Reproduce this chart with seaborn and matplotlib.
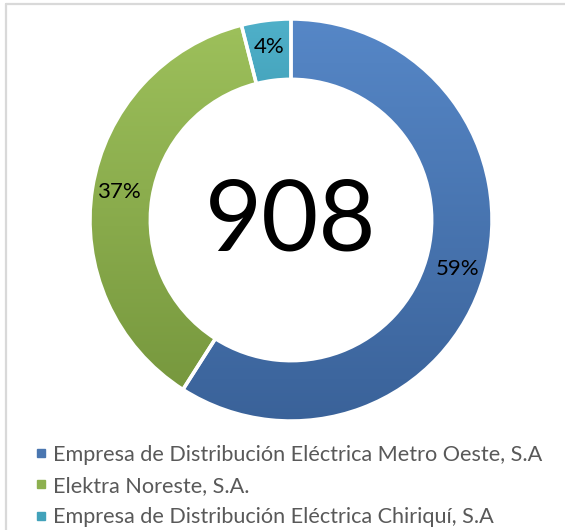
import numpy as np
import matplotlib
matplotlib.use("Agg")
import matplotlib.pyplot as plt
import seaborn as sns
from matplotlib.colors import LinearSegmentedColormap
from matplotlib.lines import Line2D

sns.set_theme(style="white")
plt.rcParams['font.family'] = ['Lato', 'DejaVu Sans']

categories = ["Empresa de Distribución Eléctrica Metro Oeste, S.A",
              "Elektra Noreste, S.A.",
              "Empresa de Distribución Eléctrica Chiriquí, S.A"]
values = [536, 336, 36]
pct_labels = ["59%", "37%", "4%"]
total_label = "908"
top_colors = ["#5687C7", "#9DC05B", "#4FB0C9"]
bottom_colors = ["#3A6299", "#77983E", "#3590A8"]
legend_colors = ["#4A76B0", "#8DB04F", "#42A2BA"]

W, H = 565, 530
fig = plt.figure(figsize=(W / 100, H / 100), dpi=100)
fig.patch.set_facecolor("white")

# frame lines (light gray, top and left)
fig.add_artist(Line2D([6 / W, 6 / W], [0, 1 - 4 / H], color="#D9D9D9", lw=1.6))
fig.add_artist(Line2D([6 / W, 1], [1 - 4 / H, 1 - 4 / H], color="#D9D9D9", lw=1.6))

cx, cy, R = 291, 220, 201
ax = fig.add_axes([(cx - R) / W, (H - cy - R) / H, 2 * R / W, 2 * R / H])
ax.set_xlim(-1, 1)
ax.set_ylim(-1, 1)
ax.set_aspect("equal")
ax.axis("off")

wedges, _ = ax.pie(values, startangle=90, counterclock=False, radius=1.0,
                   colors=legend_colors,
                   wedgeprops=dict(width=0.3, edgecolor="white", linewidth=2.5))

# gradient fill per wedge
for w, tc, bc in zip(wedges, top_colors, bottom_colors):
    path = w.get_path()
    verts = path.vertices
    ymin, ymax = verts[:, 1].min(), verts[:, 1].max()
    cmap = LinearSegmentedColormap.from_list("g", [bc, tc])
    grad = np.linspace(0, 1, 256).reshape(-1, 1)
    im = ax.imshow(grad, extent=[-1, 1, ymin, ymax], origin="lower",
                   cmap=cmap, aspect="auto", zorder=w.get_zorder() - 0.01)
    im.set_clip_path(w)
    w.set_facecolor("none")
    ax.set_xlim(-1, 1)
    ax.set_ylim(-1, 1)

# percentage labels
theta = 90.0
tot = sum(values)
for v, lab in zip(values, pct_labels):
    span = 360.0 * v / tot
    mid = np.deg2rad(theta - span / 2)
    r = 0.865
    ax.text(r * np.cos(mid), r * np.sin(mid), lab, ha="center", va="center",
            fontsize=16, color="black", zorder=5)
    theta -= span

ax.text(0, -0.01, total_label, ha="center", va="center", fontsize=71,
        color="black", zorder=5)

handles = [Line2D([], [], marker="s", linestyle="none", markersize=6,
                  markerfacecolor=c, markeredgecolor=c) for c in legend_colors]
leg = fig.legend(handles, categories, loc="upper left",
                 bbox_to_anchor=(26 / W, 1 - 436 / H), frameon=False,
                 fontsize=15.6, labelcolor="#595959", handlelength=0.6,
                 handletextpad=0.25, labelspacing=0.52, borderaxespad=0)

fig.savefig("out.png", dpi=100, facecolor="white")
